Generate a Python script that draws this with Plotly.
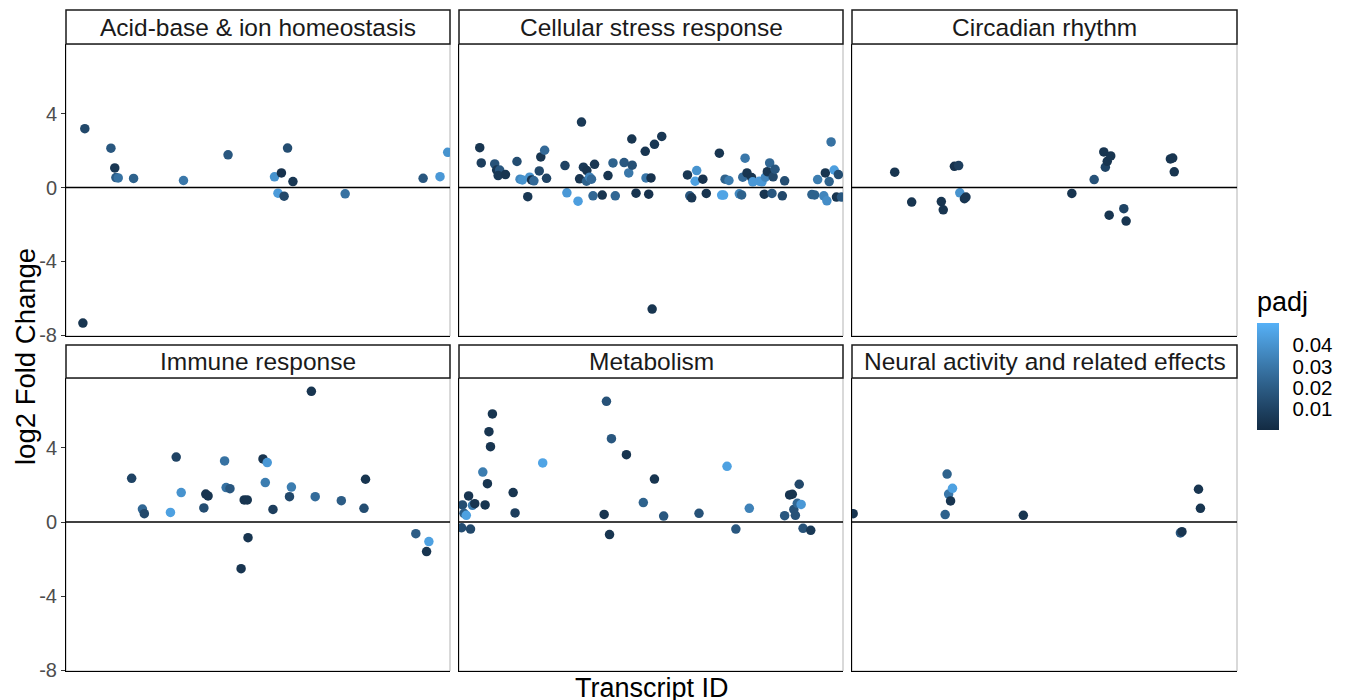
import plotly.graph_objects as go
import numpy as np

# ---------------- data ----------------
categories = ["Acid-base & ion homeostasis", "Cellular stress response", "Circadian rhythm",
              "Immune response", "Metabolism", "Neural activity and related effects"]

acid_x = [4.9, 11.7, 12.7, 13.0, 13.6, 17.6, 30.6, 42.2, 54.3, 56.1, 57.7, 59.1, 55.2, 56.8, 72.7, 93.0, 97.4, 99.4, 4.4]
acid_y = [3.19, 2.13, 1.06, 0.54, 0.52, 0.49, 0.38, 1.77, 0.58, 0.79, 2.14, 0.32, -0.31, -0.47, -0.34, 0.50, 0.59, 1.91, -7.35]
acid_p = [0.012, 0.018, 0.005, 0.02, 0.028, 0.022, 0.03, 0.018, 0.04, 0.003, 0.014, 0.005, 0.043, 0.012, 0.028, 0.018, 0.042, 0.04, 0.004]

stress_x = [5.4, 5.8, 9.3, 9.8, 10.6, 10.2, 12.1, 15.1, 15.9, 16.5, 17.9, 18.4, 18.9, 19.5, 20.9, 21.3, 22.3, 22.8,
            27.6, 28.1, 31.0, 31.9, 31.4, 32.4, 33.3, 33.2, 34.0, 34.5, 34.9, 35.3, 37.3, 38.8, 40.1, 40.7, 43.0, 44.2,
            45.0, 45.1, 46.1, 48.5, 48.7, 49.4, 50.0, 50.3, 50.9, 52.8, 59.5, 60.1, 60.6, 61.9, 61.5, 63.5, 64.4, 67.8,
            68.4, 68.9, 69.3, 70.3, 73.0, 73.6, 73.9, 74.5, 75.0, 76.2, 76.5, 78.2, 78.9, 79.5, 79.8, 80.3, 80.9, 81.5,
            81.8, 82.3, 84.2, 84.8, 91.9, 92.6, 93.4, 95.0, 95.4, 95.8, 96.4, 96.9, 97.7, 98.3, 98.8, 99.6]
stress_y = [2.16, 1.33, 1.28, 0.95, 0.95, 0.65, 0.70, 1.41, 0.45, 0.41, -0.50, 0.56, 0.41, 0.36, 0.90, 1.66, 2.02, 0.50,
            1.19, -0.29, -0.74, 3.55, 0.47, 1.10, 0.92, 0.34, 0.56, 0.45, -0.45, 1.26, -0.41, 0.65, 1.33, -0.45, 1.35, 0.79,
            2.63, 1.21, -0.31, 1.96, 0.52, -0.36, 0.52, -6.59, 2.34, 2.77, 0.68, -0.45, -0.56, 0.92, 0.34, 0.45, -0.32, 1.86,
            -0.41, -0.41, 0.45, 0.38, -0.34, -0.40, 0.56, 1.59, 0.79, 0.54, 0.31, 0.34, 0.31, -0.36, 0.56, 0.86, 1.33, -0.32,
            0.58, 0.99, -0.45, 0.36, -0.38, -0.40, 0.43, -0.45, 0.79, -0.72, 0.32, 2.47, 0.95, -0.52, 0.70, -0.52]
stress_p = [0.004, 0.008, 0.016, 0.005, 0.018, 0.006, 0.004, 0.014, 0.036, 0.04, 0.005, 0.04, 0.003, 0.025, 0.012, 0.004, 0.025, 0.01,
            0.01, 0.042, 0.044, 0.006, 0.004, 0.006, 0.004, 0.022, 0.035, 0.025, 0.024, 0.005, 0.004, 0.004, 0.022, 0.024, 0.018, 0.03,
            0.004, 0.015, 0.004, 0.004, 0.03, 0.003, 0.003, 0.004, 0.005, 0.005, 0.005, 0.018, 0.005, 0.04, 0.045, 0.003, 0.004, 0.004,
            0.046, 0.046, 0.022, 0.032, 0.036, 0.022, 0.025, 0.03, 0.004, 0.004, 0.042, 0.042, 0.042, 0.004, 0.035, 0.004, 0.024, 0.018,
            0.012, 0.018, 0.012, 0.014, 0.022, 0.022, 0.032, 0.035, 0.004, 0.038, 0.022, 0.028, 0.044, 0.004, 0.014, 0.018]

circ_x = [11.1, 15.5, 23.2, 23.7, 26.6, 27.7, 28.0, 29.2, 29.6, 57.1, 62.9, 65.4, 65.8, 66.3, 67.2, 66.8, 70.6, 71.2, 82.7, 83.3, 83.7]
circ_y = [0.83, -0.79, -0.76, -1.21, 1.15, 1.19, -0.29, -0.61, -0.52, -0.32, 0.43, 1.93, 1.10, 1.42, 1.71, -1.50, -1.15, -1.82, 1.55, 1.60, 0.85]
circ_p = [0.004, 0.004, 0.004, 0.004, 0.003, 0.008, 0.04, 0.004, 0.005, 0.004, 0.016, 0.004, 0.01, 0.004, 0.004, 0.004, 0.01, 0.004, 0.004, 0.004, 0.004]

immune_x = [17.1, 19.9, 20.4, 27.2, 28.7, 30.0, 35.9, 36.4, 37.0, 41.3, 41.7, 42.7, 46.4, 47.2, 47.4, 45.6, 51.3, 52.4, 51.9, 53.9,
            58.2, 58.7, 63.9, 64.9, 71.7, 77.6, 78.0, 91.1, 94.5, 93.9]
immune_y = [2.36, 0.70, 0.45, 0.52, 3.51, 1.59, 0.76, 1.51, 1.41, 3.30, 1.86, 1.80, 1.19, 1.19, -0.85, -2.52, 3.41, 3.21, 2.13, 0.68,
            1.37, 1.89, 7.06, 1.37, 1.15, 0.74, 2.31, -0.63, -1.06, -1.60]
immune_p = [0.01, 0.024, 0.012, 0.045, 0.01, 0.04, 0.014, 0.004, 0.004, 0.028, 0.028, 0.018, 0.004, 0.004, 0.004, 0.004, 0.004, 0.042, 0.032, 0.008,
            0.012, 0.032, 0.004, 0.026, 0.02, 0.014, 0.004, 0.02, 0.045, 0.004]

metab_x = [0.9, 1.3, 1.9, 0.7, 2.5, 3.0, 3.5, 4.1, 6.2, 6.8, 7.4, 7.8, 8.2, 8.7, 14.1, 14.6, 21.8, 37.8, 38.4, 39.2, 39.7, 43.6,
           48.0, 50.9, 53.3, 62.5, 69.8, 72.1, 75.6, 84.8, 86.1, 86.8, 87.2, 87.6, 88.1, 88.6, 89.1, 89.6, 91.6]
metab_y = [0.92, 0.47, 0.36, -0.31, 1.41, -0.38, 0.90, 0.99, 2.70, 0.92, 2.07, 4.88, 4.07, 5.84, 1.59, 0.49, 3.19, 0.41, 6.52, -0.68, 4.50, 3.64,
           1.05, 2.32, 0.32, 0.47, 3.01, -0.38, 0.74, 0.34, 1.46, 1.50, 0.68, 0.36, 1.01, 2.04, 0.95, -0.34, -0.45]
metab_p = [0.014, 0.02, 0.045, 0.014, 0.004, 0.012, 0.032, 0.004, 0.032, 0.004, 0.004, 0.004, 0.004, 0.004, 0.004, 0.008, 0.046, 0.004, 0.016, 0.004, 0.018, 0.004,
           0.022, 0.004, 0.018, 0.016, 0.045, 0.018, 0.034, 0.018, 0.004, 0.004, 0.016, 0.016, 0.024, 0.012, 0.042, 0.016, 0.006]

neural_x = [0.3, 24.2, 24.7, 25.1, 25.6, 26.1, 44.5, 85.3, 85.7, 90.0, 90.5]
neural_y = [0.45, 0.40, 2.59, 1.51, 1.14, 1.82, 0.36, -0.59, -0.52, 1.77, 0.74]
neural_p = [0.004, 0.022, 0.022, 0.03, 0.004, 0.045, 0.004, 0.018, 0.004, 0.004, 0.004]

panels = [(acid_x, acid_y, acid_p), (stress_x, stress_y, stress_p), (circ_x, circ_y, circ_p),
          (immune_x, immune_y, immune_p), (metab_x, metab_y, metab_p), (neural_x, neural_y, neural_p)]

y_ticks = [-8, -4, 0, 4]
y_tick_labels = ["-8", "-4", "0", "4"]
cbar_ticks = [0.01, 0.02, 0.03, 0.04]

# ---------------- ggplot-like Lab gradient ----------------
def _hex2rgb(h):
    h = h.lstrip("#")
    return np.array([int(h[i:i + 2], 16) / 255 for i in (0, 2, 4)])

def _rgb2lab(rgb):
    c = np.where(rgb <= 0.04045, rgb / 12.92, ((rgb + 0.055) / 1.055) ** 2.4)
    M = np.array([[0.4124, 0.3576, 0.1805], [0.2126, 0.7152, 0.0722], [0.0193, 0.1192, 0.9505]])
    xyz = M @ c / np.array([0.95047, 1.0, 1.08883])
    f = np.where(xyz > 0.008856, np.cbrt(xyz), 7.787 * xyz + 16 / 116)
    return np.array([116 * f[1] - 16, 500 * (f[0] - f[1]), 200 * (f[1] - f[2])])

def _lab2hex(lab):
    fy = (lab[0] + 16) / 116
    fx = fy + lab[1] / 500
    fz = fy - lab[2] / 200
    f = np.array([fx, fy, fz])
    xyz = np.where(f ** 3 > 0.008856, f ** 3, (f - 16 / 116) / 7.787) * np.array([0.95047, 1.0, 1.08883])
    Mi = np.array([[3.2406, -1.5372, -0.4986], [-0.9689, 1.8758, 0.0415], [0.0557, -0.2040, 1.0570]])
    c = Mi @ xyz
    c = np.where(c <= 0.0031308, 12.92 * c, 1.055 * np.clip(c, 0, None) ** (1 / 2.4) - 0.055)
    c = np.clip(c, 0, 1)
    return "#%02x%02x%02x" % tuple(int(round(v * 255)) for v in c)

lo, hi = _rgb2lab(_hex2rgb("#132B43")), _rgb2lab(_hex2rgb("#56B1F7"))
colorscale = [[t, _lab2hex(lo + (hi - lo) * t)] for t in np.linspace(0, 1, 11)]

# ---------------- layout geometry ----------------
W, H = 1348, 700
col_px = [(66, 450), (459, 843), (852, 1237)]
row_px = [(44, 336), (378, 671)]
strip_px = [(10, 44), (345, 378)]
YR = [-8.05, 7.78]
FONT = "Liberation Sans, Arial, sans-serif"

fig = go.Figure()
layout = dict(width=W, height=H, margin=dict(l=0, r=0, t=0, b=0, pad=0, autoexpand=False),
              paper_bgcolor="white", plot_bgcolor="white", showlegend=False,
              font=dict(family=FONT, color="#1a1a1a"))
shapes, annotations = [], []

for i, (xs, ys, ps) in enumerate(panels):
    r, c = divmod(i, 3)
    n = "" if i == 0 else str(i + 1)
    x0, x1 = col_px[c]
    y0, y1 = row_px[r]
    layout["xaxis" + n] = dict(domain=[x0 / W, x1 / W], range=[0, 100], anchor="y" + n, automargin=False,
                              showgrid=False, zeroline=False, showticklabels=False, ticks="",
                              showline=True, linecolor="black", linewidth=1, mirror=False)
    layout["yaxis" + n] = dict(domain=[1 - y1 / H, 1 - y0 / H], range=YR, anchor="x" + n, automargin=False,
                              showgrid=False, zeroline=False, tickvals=y_ticks, ticktext=y_tick_labels,
                              showticklabels=(c == 0), ticks="outside" if c == 0 else "",
                              ticklen=4, tickcolor="#333333", tickwidth=1,
                              tickfont=dict(size=20, color="#4D4D4D", family=FONT),
                              showline=True, linecolor="black", linewidth=1)
    fig.add_trace(go.Scatter(x=xs, y=ys, mode="markers", xaxis="x" + n, yaxis="y" + n,
                             marker=dict(size=9.5, color=ps, coloraxis="coloraxis", line=dict(width=0)),
                             hovertemplate="log2FC=%{y}<br>padj=%{marker.color}<extra></extra>"))
    # panel border (grey)
    shapes.append(dict(type="rect", xref="x%s domain" % n, yref="y%s domain" % n, x0=0, x1=1, y0=0, y1=1,
                       line=dict(color="#B3B3B3", width=1), layer="below"))
    # zero line
    shapes.append(dict(type="line", xref="x%s domain" % n, yref="y" + n, x0=0, x1=1, y0=0, y1=0,
                       line=dict(color="black", width=1.5)))
    # strip
    s0, s1 = strip_px[r]
    shapes.append(dict(type="rect", xref="paper", yref="paper", x0=x0 / W, x1=x1 / W,
                       y0=1 - s1 / H, y1=1 - s0 / H, line=dict(color="#1a1a1a", width=1.5),
                       fillcolor="white"))
    annotations.append(dict(text=categories[i], xref="paper", yref="paper", x=(x0 + x1) / 2 / W,
                            y=1 - (s0 + s1) / 2 / H, xanchor="center", yanchor="middle", showarrow=False,
                            font=dict(size=24.5, color="#1a1a1a", family=FONT)))

annotations.append(dict(text="log2 Fold Change", xref="paper", yref="paper", x=25 / W, y=1 - 357 / H,
                        textangle=-90, xanchor="center", yanchor="middle", showarrow=False,
                        font=dict(size=27.5, color="black", family=FONT)))
annotations.append(dict(text="Transcript ID", xref="paper", yref="paper", x=651.5 / W, y=1 - 671 / H,
                        xanchor="center", yanchor="top", showarrow=False,
                        font=dict(size=27, color="black", family=FONT)))

layout["coloraxis"] = dict(colorscale=colorscale, cmin=0.0, cmax=0.0505,
                           colorbar=dict(title=dict(text="padj", side="top", font=dict(size=27, color="black", family=FONT)),
                                         tickvals=cbar_ticks, ticktext=[f"{v:.2f}" for v in cbar_ticks],
                                         tickfont=dict(size=20.5, color="black", family=FONT),
                                         ticks="outside", ticklen=10, tickcolor="rgba(0,0,0,0)",
                                         thickness=22, thicknessmode="pixels", len=142, lenmode="pixels",
                                         x=1257 / W, xanchor="left", y=1 - 430 / H, yanchor="bottom",
                                         outlinewidth=0, xpad=0, ypad=0))
layout["shapes"] = shapes
layout["annotations"] = annotations
fig.update_layout(**layout)
fig.write_html("out.html", config={"displayModeBar": False},
               post_script="document.body.style.margin='0';document.body.style.padding='0';"
                           "document.body.style.overflow='hidden';")
